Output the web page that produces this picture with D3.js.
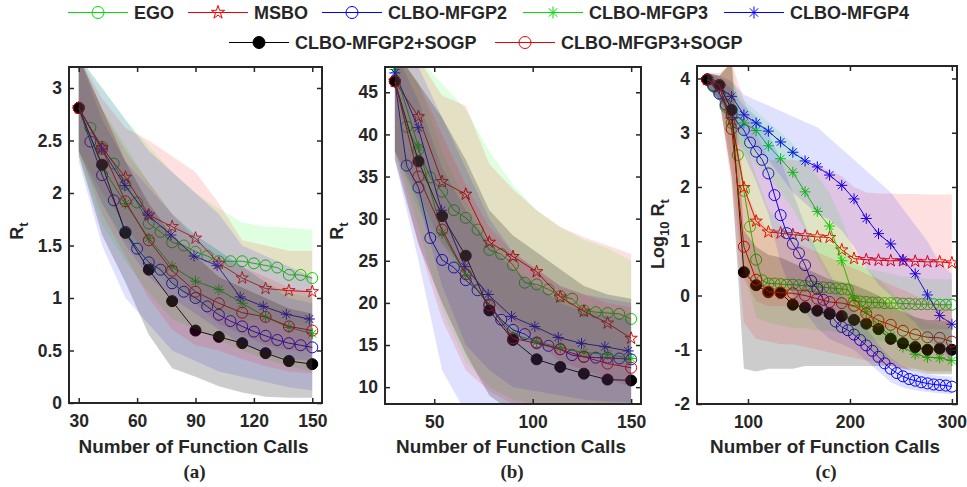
<!DOCTYPE html>
<html>
<head>
<meta charset="utf-8">
<title>CLBO convergence</title>
<script src="https://d3js.org/d3.v7.min.js"></script>
<style>
  body { margin: 0; background: #fff; }
  text { font-family: "Liberation Sans", Arial, sans-serif; font-weight: bold; fill: #262626; }
</style>
</head>
<body>
<div id="chart"></div>
<script>
// ---- series info
const seriesNames = ["EGO", "MSBO", "CLBO-MFGP2", "CLBO-MFGP3", "CLBO-MFGP4", "CLBO-MFGP2+SOGP", "CLBO-MFGP3+SOGP"];
const lineColors = ["#00dd00", "#ee0000", "#0000ff", "#00dd00", "#0000ff", "#000000", "#ee0000"];
const bandColors = ["#00ff00", "#ff0000", "#0000ff", "#00ff00", "#0000ff", "#000000", "#ff0000"];
const bandAlpha = [0.12, 0.12, 0.12, 0.12, 0.12, 0.2, 0.12];
const markerTypes = ["circle", "star", "circle", "asterisk", "asterisk", "dot", "circle"];

// ---- panel (a)
const aX6 = [30, 36, 42, 48, 54, 60, 66, 72, 78, 84, 90, 96, 102, 108, 114, 120, 126, 132, 138, 144, 150];
const aX12 = [30, 42, 54, 66, 78, 90, 102, 114, 126, 138, 150];
const aXm4 = [30, 41.85, 53.7, 65.55, 77.4, 89.25, 101.1, 112.95, 124.8, 136.65, 148.5];
const aEGO = [2.81, 2.62, 2.44, 2.28, 2.08, 1.91, 1.71, 1.63, 1.53, 1.50, 1.44, 1.40, 1.35, 1.35, 1.35, 1.33, 1.31, 1.29, 1.22, 1.22, 1.19];
const aMSBO = [2.81, 2.43, 2.15, 1.79, 1.68, 1.57, 1.33, 1.19, 1.09, 1.07, 1.06];
const aMFGP2 = [2.81, 2.49, 2.17, 1.93, 1.63, 1.47, 1.34, 1.27, 1.14, 1.06, 1.00, 0.92, 0.84, 0.78, 0.73, 0.68, 0.64, 0.60, 0.57, 0.55, 0.53];
const aMFGP3 = [2.81, 2.25, 1.90, 1.57, 1.30, 1.16, 1.08, 0.95, 0.82, 0.72, 0.66];
const aMFGP4 = [2.81, 2.42, 2.07, 1.79, 1.60, 1.40, 1.31, 1.01, 0.92, 0.845, 0.80];
const aSOGP2 = [2.81, 2.27, 1.62, 1.27, 0.97, 0.69, 0.63, 0.57, 0.475, 0.40, 0.37];
const aSOGP3 = [2.81, 2.42, 1.92, 1.55, 1.26, 1.06, 0.95, 0.86, 0.82, 0.73, 0.69];
// bands (upper / lower) on aX12
const aEGOhi = [3.3, 3.0, 2.7, 2.45, 2.2, 2.0, 1.85, 1.72, 1.68, 1.67, 1.65];
const aEGOlo = [2.4, 1.9, 1.55, 1.3, 1.1, 0.95, 0.85, 0.8, 0.78, 0.75, 0.72];
const aMSBOhi = [3.3, 2.9, 2.62, 2.5, 2.35, 2.2, 1.9, 1.55, 1.5, 1.45, 1.45];
const aMSBOlo = [2.4, 2.0, 1.7, 1.35, 1.15, 0.95, 0.75, 0.65, 0.55, 0.5, 0.5];
const aMFGP2hi = [3.3, 2.7, 2.3, 2.05, 1.8, 1.6, 1.45, 1.3, 1.15, 1.0, 0.95];
const aMFGP2lo = [2.3, 1.5, 1.0, 0.75, 0.5, 0.4, 0.3, 0.25, 0.2, 0.15, 0.12];
const aMFGP3hi = [3.3, 2.8, 2.45, 2.1, 1.8, 1.6, 1.45, 1.3, 1.15, 1.05, 1.0];
const aMFGP3lo = [2.35, 1.7, 1.35, 1.05, 0.8, 0.7, 0.6, 0.5, 0.42, 0.35, 0.3];
const aMFGP4hi = [3.3, 3.0, 2.7, 2.4, 2.2, 2.0, 1.8, 1.5, 1.4, 1.3, 1.2];
const aMFGP4lo = [2.4, 1.9, 1.5, 1.2, 1.0, 0.85, 0.7, 0.55, 0.48, 0.42, 0.4];
const aSOGP2hi = [3.3, 2.8, 2.3, 1.9, 1.6, 1.4, 1.2, 1.1, 1.0, 0.9, 0.85];
const aSOGP2lo = [2.36, 1.6, 1.15, 0.65, 0.33, 0.25, 0.16, 0.1, 0.06, 0.05, 0.05];
const aSOGP3hi = [3.3, 2.8, 2.4, 2.1, 1.8, 1.55, 1.4, 1.3, 1.2, 1.1, 1.05];
const aSOGP3lo = [2.4, 1.8, 1.4, 1.0, 0.7, 0.55, 0.5, 0.42, 0.35, 0.3, 0.28];
const aXTicks = [30, 60, 90, 120, 150];
const aYTicks = [0, 0.5, 1, 1.5, 2, 2.5, 3];

// ---- panel (b)
const bEGO = [46.3, 40.9, 38.2, 34.9, 33.2, 31.0, 30.1, 28.7, 26.3, 25.8, 24.5, 22.4, 22.2, 21.6, 20.8, 20.5, 19.1, 18.9, 18.8, 18.7, 18.1];
const bMSBO = [46.3, 42.1, 34.4, 32.9, 27.2, 25.5, 23.7, 20.7, 19.0, 17.6, 15.8];
const bMFGP2 = [46.3, 36.3, 33.7, 27.7, 25.1, 24.2, 22.7, 21.5, 19.8, 18.0, 16.8, 16.3, 15.3, 14.9, 14.5, 13.8, 13.6, 13.5, 13.5, 13.4, 13.3];
const bMFGP3 = [47.7, 38.5, 28.3, 23.3, 19.6, 16.3, 15.4, 14.7, 14.1, 13.9, 13.4];
const bMFGP4 = [47.3, 40.8, 31.0, 24.3, 21.0, 18.4, 17.2, 15.9, 15.2, 14.8, 14.3];
const bSOGP2 = [46.3, 36.8, 30.3, 25.6, 19.1, 15.6, 13.3, 12.4, 11.6, 10.9, 10.8];
const bSOGP3 = [46.3, 35.0, 28.7, 23.4, 19.7, 15.8, 15.2, 14.5, 13.6, 12.8, 12.3];
const bEGOhi = [50, 49, 46, 43, 38, 34, 31, 29, 27.5, 26.5, 25];
const bEGOlo = [38, 31, 27, 23, 20, 18, 16, 15, 14, 13, 12.5];
const bMSBOhi = [50, 49, 44.6, 43.4, 36.5, 33.5, 31, 29, 27.8, 26.8, 25.8];
const bMSBOlo = [38, 33, 27, 24, 20, 17.5, 15.5, 13, 12, 11, 10];
const bMFGP2hi = [50, 44, 36, 31, 27, 24, 22, 20, 19, 18.5, 18];
const bMFGP2lo = [37, 25, 12, 7, 5, 5, 5, 5, 5, 5, 5];
const bMFGP3hi = [50, 46, 38, 32, 27, 24, 22, 20.5, 19.5, 19, 18.5];
const bMFGP3lo = [38, 29, 19, 13, 10, 8.5, 8, 7, 7, 7, 7];
const bMFGP4hi = [50, 48, 42, 36, 30, 26, 24, 22, 21, 20.5, 20];
const bMFGP4lo = [38, 32, 22, 15, 12, 10, 9.5, 9, 8.5, 8.3, 8.2];
const bSOGP2hi = [50, 46, 42, 37, 31, 28, 26, 24, 22, 21, 20.5];
const bSOGP2lo = [37, 27, 20, 14, 9, 7, 5, 5, 5, 5, 5];
const bSOGP3hi = [50, 46, 40, 34, 29, 26, 24, 22, 21, 20, 19.5];
const bSOGP3lo = [38, 27, 18, 12, 9.5, 8, 7.5, 7, 7, 7, 7];
const bXTicks = [50, 100, 150];
const bYTicks = [10, 15, 20, 25, 30, 35, 40, 45];

// ---- panel (c)
const cX6 = [60, 66, 72, 78, 84, 90, 96, 102, 108, 114, 120, 126, 132, 138, 144, 150, 156, 162, 168, 174, 180,
             186, 192, 198, 204, 210, 216, 222, 228, 234, 240, 246, 252, 258, 264, 270, 276, 282, 288, 294, 300];
const cX12 = [60, 72, 84, 96, 108, 120, 132, 144, 156, 168, 180, 192, 204, 216, 228, 240, 252, 264, 276, 288, 300];
const cEGO = [3.98, 3.85, 3.72, 3.48, 3.18, 2.59, 1.93, 1.27, 0.66, 0.28, 0.22, 0.22, 0.21, 0.20, 0.20, 0.19, 0.18, 0.17, 0.16, 0.15, 0.14,
              0.13, 0.12, 0.11, -0.10, -0.11, -0.12, -0.13, -0.13, -0.14, -0.14, -0.14, -0.15, -0.15, -0.16, -0.16, -0.16, -0.16, -0.17, -0.17, -0.17];
const cMSBO = [3.98, 3.85, 3.24, 1.99, 1.37, 1.17, 1.15, 1.12, 1.10, 1.08, 1.07, 0.84, 0.68, 0.66, 0.65, 0.64, 0.64, 0.63, 0.62, 0.62, 0.60];
const cMFGP2 = [3.98, 3.87, 3.72, 3.52, 3.34, 3.18, 3.05, 2.82, 2.65, 2.50, 2.25, 1.85, 1.48, 1.15, 0.95, 0.78, 0.56, 0.27, 0.12, -0.08, -0.32,
                -0.48, -0.58, -0.64, -0.72, -0.82, -0.92, -1.02, -1.13, -1.25, -1.35, -1.43, -1.49, -1.54, -1.57, -1.60, -1.62, -1.64, -1.65, -1.66, -1.68];
const cMFGP3 = [3.98, 3.88, 3.43, 3.18, 3.04, 2.76, 2.52, 2.27, 1.91, 1.55, 1.28, 0.64, -0.05, -0.30, -0.55, -0.75, -0.95, -1.08, -1.14, -1.15, -1.20];
const cMFGP4 = [3.98, 3.83, 3.67, 3.33, 3.18, 3.03, 2.83, 2.64, 2.48, 2.37, 2.22, 2.03, 1.78, 1.42, 1.14, 0.95, 0.66, 0.40, 0.01, -0.37, -0.53];
const cSOGP2 = [3.98, 3.88, 3.42, 0.43, 0.19, 0.06, 0.05, -0.17, -0.22, -0.28, -0.34, -0.38, -0.45, -0.52, -0.62, -0.80, -0.88, -0.95, -1.00, -0.98, -1.00];
const cSOGP3 = [3.98, 3.88, 3.07, 0.90, 0.29, 0.07, 0.05, 0.04, 0.00, -0.06, -0.12, -0.14, -0.19, -0.33, -0.46, -0.54, -0.65, -0.72, -0.77, -0.78, -0.85];
const cEGOhi = [4.1, 4.05, 4.3, 3.0, 2.2, 1.6, 1.3, 1.2, 1.1, 1.0, 0.95, 0.9, 0.6, 0.5, 0.45, 0.4, 0.35, 0.35, 0.3, 0.3, 0.3];
const cEGOlo = [3.85, 3.6, 2.5, 0.5, -0.4, -0.5, -0.55, -0.6, -0.6, -0.65, -0.65, -0.7, -0.75, -0.8, -0.85, -0.85, -0.9, -0.9, -0.9, -0.9, -0.9];
const cMSBOhi = [4.1, 4.1, 4.3, 3.6, 3.0, 2.5, 2.5, 2.5, 2.45, 2.4, 2.3, 2.2, 2.0, 1.9, 1.88, 1.88, 1.87, 1.87, 1.86, 1.86, 1.86];
const cMSBOlo = [3.85, 3.6, 2.2, 0.3, -0.1, -0.2, -0.2, -0.2, -0.2, -0.25, -0.3, -0.4, -0.5, -0.55, -0.6, -0.6, -0.6, -0.62, -0.62, -0.62, -0.62];
const cMFGP2hi = [4.1, 4.0, 3.8, 3.5, 3.3, 3.0, 2.5, 1.9, 1.3, 0.8, 0.4, 0.0, -0.3, -0.6, -0.9, -1.15, -1.3, -1.4, -1.45, -1.48, -1.5];
const cMFGP2lo = [3.85, 3.6, 3.0, 2.6, 2.1, 1.5, 0.6, 0.0, -0.3, -0.6, -0.8, -0.9, -1.0, -1.2, -1.4, -1.6, -1.7, -1.75, -1.78, -1.8, -1.82];
const cMFGP3hi = [4.1, 4.05, 3.9, 3.6, 3.4, 3.2, 3.0, 2.8, 2.5, 2.2, 1.9, 1.4, 0.8, 0.5, 0.3, 0.1, -0.2, -0.4, -0.5, -0.55, -0.6];
const cMFGP3lo = [3.85, 3.6, 3.0, 2.7, 2.4, 2.2, 1.9, 1.6, 1.2, 0.7, 0.3, -0.3, -0.7, -0.9, -1.1, -1.2, -1.3, -1.35, -1.4, -1.4, -1.4];
const cMFGP4hi = [4.1, 4.05, 3.95, 3.7, 3.6, 3.5, 3.4, 3.3, 3.2, 3.1, 2.9, 2.7, 2.5, 2.3, 2.1, 1.9, 1.6, 1.3, 1.0, 0.6, 0.4];
const cMFGP4lo = [3.85, 3.6, 3.3, 2.9, 2.7, 2.5, 2.2, 1.9, 1.7, 1.5, 1.4, 1.2, 0.9, 0.5, 0.2, 0.0, -0.3, -0.5, -0.8, -1.0, -1.2];
const cSOGP2hi = [4.1, 4.05, 4.3, 1.2, 0.9, 0.75, 0.7, 0.6, 0.5, 0.4, 0.3, 0.25, 0.2, 0.1, 0.0, -0.2, -0.3, -0.4, -0.45, -0.45, -0.5];
const cSOGP2lo = [3.85, 3.6, 2.2, -1.35, -1.4, -1.35, -1.35, -1.35, -1.3, -1.3, -1.3, -1.3, -1.3, -1.3, -1.3, -1.3, -1.35, -1.4, -1.45, -1.45, -1.45];
const cSOGP3hi = [4.1, 4.05, 4.3, 2.0, 1.5, 1.2, 1.1, 1.0, 0.9, 0.8, 0.7, 0.6, 0.5, 0.4, 0.3, 0.2, 0.1, 0.0, -0.1, -0.15, -0.2];
const cSOGP3lo = [3.85, 3.6, 2.0, -0.5, -0.8, -0.85, -0.9, -0.9, -0.95, -1.0, -1.05, -1.1, -1.15, -1.2, -1.25, -1.3, -1.35, -1.35, -1.4, -1.4, -1.4];
const cXTicks = [100, 200, 300];
const cYTicks = [-2, -1, 0, 1, 2, 3, 4];

const panels = [
  { tag: "(a)", box: [69, 67, 322, 403], xDomain: [25, 155], yDomain: [0, 3.2], xTicks: aXTicks, yTicks: aYTicks,
    yLab: [["R"], ["t", 1]], yLabPos: [23, 231],
    xs: [aX6, aX12, aX6, aX12, aXm4, aX12, aX12], ys: [aEGO, aMSBO, aMFGP2, aMFGP3, aMFGP4, aSOGP2, aSOGP3],
    bandX: aX12, hi: [aEGOhi, aMSBOhi, aMFGP2hi, aMFGP3hi, aMFGP4hi, aSOGP2hi, aSOGP3hi],
    lo: [aEGOlo, aMSBOlo, aMFGP2lo, aMFGP3lo, aMFGP4lo, aSOGP2lo, aSOGP3lo] },
  { tag: "(b)", box: [385, 67, 641, 404], xDomain: [25, 155], yDomain: [8, 48], xTicks: bXTicks, yTicks: bYTicks,
    yLab: [["R"], ["t", 1]], yLabPos: [343, 231],
    xs: [aX6, aX12, aX6, aX12, aXm4, aX12, aX12], ys: [bEGO, bMSBO, bMFGP2, bMFGP3, bMFGP4, bSOGP2, bSOGP3],
    bandX: aX12, hi: [bEGOhi, bMSBOhi, bMFGP2hi, bMFGP3hi, bMFGP4hi, bSOGP2hi, bSOGP3hi],
    lo: [bEGOlo, bMSBOlo, bMFGP2lo, bMFGP3lo, bMFGP4lo, bSOGP2lo, bSOGP3lo] },
  { tag: "(c)", box: [697, 66, 957, 404], xDomain: [50, 305], yDomain: [-2, 4.23], xTicks: cXTicks, yTicks: cYTicks,
    yLab: [["Log"], ["10", 1], [" R"], ["t", 1]], yLabPos: [664, 234],
    xs: [cX6, cX12, cX6, cX12, cX12, cX12, cX12], ys: [cEGO, cMSBO, cMFGP2, cMFGP3, cMFGP4, cSOGP2, cSOGP3],
    bandX: cX12, hi: [cEGOhi, cMSBOhi, cMFGP2hi, cMFGP3hi, cMFGP4hi, cSOGP2hi, cSOGP3hi],
    lo: [cEGOlo, cMSBOlo, cMFGP2lo, cMFGP3lo, cMFGP4lo, cSOGP2lo, cSOGP3lo] }
];

const svg = d3.select("#chart").append("svg")
  .attr("width", 967)
  .attr("height", 487);

function starPath(R) {
  const r = R * 0.382;
  let p = "";
  for (let i = 0; i < 10; i++) {
    const a = -Math.PI / 2 + i * Math.PI / 5;
    const rr = i % 2 ? r : R;
    p += (i ? "L" : "M") + (rr * Math.cos(a)).toFixed(2) + "," + (rr * Math.sin(a)).toFixed(2);
  }
  return p + "Z";
}
function asteriskPath(h) {
  const d = h * 0.7;
  return `M${-h},0L${h},0M0,${-h}L0,${h}M${-d},${-d}L${d},${d}M${-d},${d}L${d},${-d}`;
}

// draws one marker at (x, y)
function drawMarker(g, type, color, x, y, size) {
  const s = size || 5.5;
  if (type === "circle") {
    g.append("circle").attr("cx", x).attr("cy", y).attr("r", s)
      .attr("fill", "none").attr("stroke", color).attr("stroke-width", 1);
  } else if (type === "dot") {
    g.append("circle").attr("cx", x).attr("cy", y).attr("r", s)
      .attr("fill", color).attr("stroke", color).attr("stroke-width", 1);
  } else if (type === "star") {
    g.append("path").attr("d", starPath(s + 1)).attr("transform", `translate(${x},${y})`)
      .attr("fill", "none").attr("stroke", color).attr("stroke-width", 1);
  } else {
    g.append("path").attr("d", asteriskPath(s)).attr("transform", `translate(${x},${y})`)
      .attr("fill", "none").attr("stroke", color).attr("stroke-width", 1);
  }
}

panels.forEach((p, pi) => {
  const [x0, y0, x1, y1] = p.box;
  const x = d3.scaleLinear().domain(p.xDomain).range([x0, x1]);
  const y = d3.scaleLinear().domain(p.yDomain).range([y1, y0]);

  const clipId = "clip" + pi;
  svg.append("clipPath").attr("id", clipId)
    .append("rect").attr("x", x0).attr("y", y0).attr("width", x1 - x0).attr("height", y1 - y0);
  const plot = svg.append("g").attr("clip-path", `url(#${clipId})`);

  // lines and markers first
  p.ys.forEach((vals, si) => {
    const pts = vals.map((v, i) => [p.xs[si][i], v]);
    const g = plot.append("g");
    g.append("path").datum(pts)
      .attr("fill", "none")
      .attr("stroke", lineColors[si])
      .attr("stroke-width", 1)
      .attr("d", d3.line().x(d => x(d[0])).y(d => y(d[1])));
    pts.forEach(d => drawMarker(g, markerTypes[si], lineColors[si], x(d[0]), y(d[1])));
  });

  // translucent bands drawn over the lines
  p.hi.forEach((hiVals, si) => {
    const rows = p.bandX.map((bx, i) => [bx, p.lo[si][i], hiVals[i]]);
    plot.append("path").datum(rows)
      .attr("fill", bandColors[si])
      .attr("fill-opacity", bandAlpha[si])
      .attr("stroke", "none")
      .attr("d", d3.area().x(d => x(d[0])).y0(d => y(d[1])).y1(d => y(d[2])));
  });

  // axes: ticks inward on all four sides
  svg.append("g").attr("transform", `translate(0,${y1})`)
    .call(d3.axisBottom(x).tickValues(p.xTicks).tickSize(-5).tickPadding(12).tickFormat(d => d))
    .call(g => g.select(".domain").remove())
    .call(g => g.selectAll("text").style("font-size", "17.5px").attr("fill", "#262626"));
  svg.append("g").attr("transform", `translate(0,${y0})`)
    .call(d3.axisTop(x).tickValues(p.xTicks).tickSize(-5).tickFormat(""))
    .call(g => g.select(".domain").remove());
  svg.append("g").attr("transform", `translate(${x0},0)`)
    .call(d3.axisLeft(y).tickValues(p.yTicks).tickSize(-5).tickPadding(7).tickFormat(d => d))
    .call(g => g.select(".domain").remove())
    .call(g => g.selectAll("text").style("font-size", "17.5px").attr("fill", "#262626"));
  svg.append("g").attr("transform", `translate(${x1},0)`)
    .call(d3.axisRight(y).tickValues(p.yTicks).tickSize(-5).tickFormat(""))
    .call(g => g.select(".domain").remove());
  svg.selectAll(".tick line").attr("stroke", "#262626").attr("stroke-width", 1.5);

  svg.append("rect")
    .attr("x", x0).attr("y", y0).attr("width", x1 - x0).attr("height", y1 - y0)
    .attr("fill", "none").attr("stroke", "#262626").attr("stroke-width", 2);

  // x label
  svg.append("text")
    .attr("x", (x0 + x1) / 2 - 2).attr("y", 453)
    .attr("text-anchor", "middle")
    .attr("textLength", 230)
    .attr("lengthAdjust", "spacingAndGlyphs")
    .style("font-size", "18.5px")
    .text("Number of Function Calls");

  // subplot tag
  svg.append("text")
    .attr("x", (x0 + x1) / 2 - 1).attr("y", 478)
    .attr("text-anchor", "middle")
    .style("font-family", "'Liberation Serif', 'Times New Roman', serif")
    .style("font-size", "19px")
    .text(p.tag);

  // y label
  const yl = svg.append("text")
    .attr("transform", `translate(${p.yLabPos[0]},${p.yLabPos[1]}) rotate(-90)`)
    .attr("text-anchor", "middle")
    .style("font-size", "18px");
  let shifted = false;
  p.yLab.forEach(part => {
    const t = yl.append("tspan").text(part[0]);
    if (part[1]) { t.attr("dy", 5).style("font-size", "13px"); shifted = true; }
    else if (shifted) { t.attr("dy", -5); shifted = false; }
  });
});

// ---- legend
const legendPos = [[68, 12.5], [188, 12.5], [322, 12.5], [523, 12.5], [724, 12.5], [229, 42.5], [495, 42.5]];
const legend = svg.append("g");
seriesNames.forEach((name, i) => {
  const [lx, ly] = legendPos[i];
  legend.append("line")
    .attr("x1", lx).attr("x2", lx + 60).attr("y1", ly).attr("y2", ly)
    .attr("stroke", lineColors[i]).attr("stroke-width", 1);
  drawMarker(legend, markerTypes[i], lineColors[i], lx + 30, ly, 6);
  legend.append("text")
    .attr("x", lx + 66).attr("y", ly).attr("dy", "0.36em")
    .style("font-size", "18px")
    .text(name);
});
</script>
</body>
</html>
